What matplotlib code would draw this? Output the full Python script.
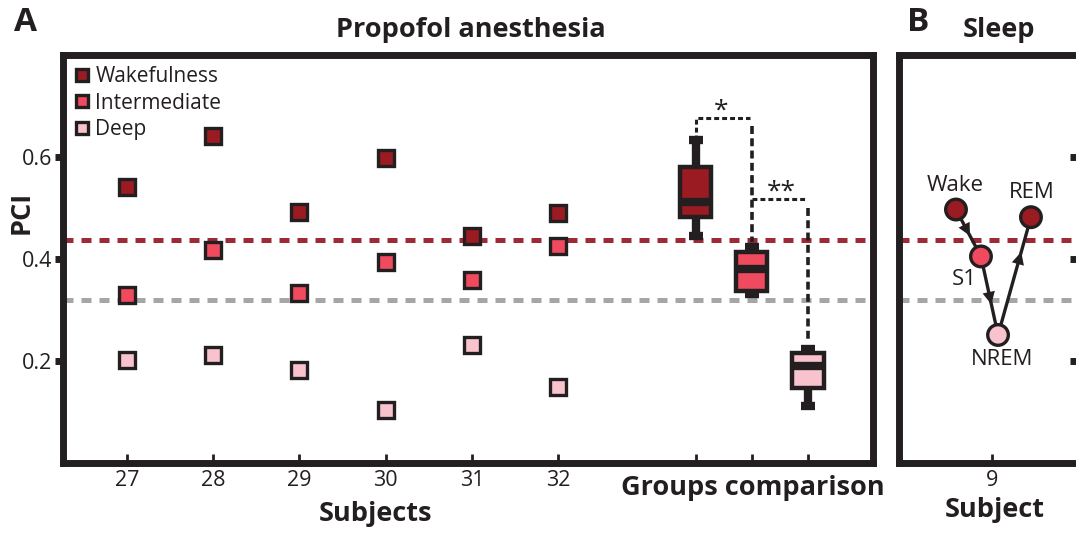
import numpy as np
import matplotlib.pyplot as plt

plt.rcParams['font.family'] = ['Open Sans', 'DejaVu Sans']

# data
subjects = ['27', '28', '29', '30', '31', '32']
wake = [0.541, 0.641, 0.492, 0.598, 0.445, 0.490]
inter = [0.329, 0.418, 0.333, 0.394, 0.359, 0.425]
deep = [0.202, 0.212, 0.182, 0.104, 0.231, 0.149]

# groups comparison boxes: whislo, q1, med, q3, whishi
box_wake = [0.446, 0.483, 0.512, 0.580, 0.633]
box_inter = [0.331, 0.338, 0.380, 0.414, 0.424]
box_deep = [0.112, 0.1465, 0.190, 0.215, 0.2235]

wake_thr = 0.437
deep_thr = 0.320

sleep_states = ['Wake', 'S1', 'NREM', 'REM']
sleep_pci = [0.497, 0.405, 0.251, 0.482]

BLACK = '#231f20'
c_wake = '#9b1b22'
c_inter = '#ef4a5d'
c_deep = '#f9c3cd'

fig = plt.figure(figsize=(10.76, 5.33), dpi=100)
W, H = 1076, 533
axA = fig.add_axes([63 / W, 70 / H, 810 / W, 408 / H])
axB = fig.add_axes([899 / W, 70 / H, 186 / W, 408 / H])

for ax in (axA, axB):
    ax.set_ylim(0, 0.8)
    for s in ax.spines.values():
        s.set_linewidth(5)
        s.set_color(BLACK)
axB.spines['right'].set_visible(False)

# ---- panel A ----
xs = np.arange(1, 7)
gpos = [7.6, 8.25, 8.9]
axA.set_xlim(0.2575, 9.654)

axA.axhline(wake_thr, color='#9e2a36', lw=3.6, ls=(0, (2, 1.6)), zorder=1)
axA.axhline(deep_thr, color='#a6a6a6', lw=3.6, ls=(0, (2, 1.6)), zorder=1)

for vals, c, lab in [(wake, c_wake, 'Wakefulness'), (inter, c_inter, 'Intermediate'), (deep, c_deep, 'Deep')]:
    axA.plot(xs, vals, 's', ms=11.5, mfc=c, mec=BLACK, mew=2.4, label=lab, zorder=3)

leg = axA.legend(loc='upper left', frameon=False, handlelength=0.7, handletextpad=0.3,
                 labelspacing=0.25, borderaxespad=0.35, fontsize=15, markerscale=0.75,
                 borderpad=0.2)
for t in leg.get_texts():
    t.set_color(BLACK)

stats = []
for b in (box_wake, box_inter, box_deep):
    stats.append(dict(whislo=b[0], q1=b[1], med=b[2], q3=b[3], whishi=b[4], fliers=[]))
bp = axA.bxp(stats, positions=gpos, widths=0.36, patch_artist=True, showfliers=False,
             manage_ticks=False, capwidths=0.17,
             boxprops=dict(edgecolor=BLACK, linewidth=3.2),
             medianprops=dict(color=BLACK, linewidth=6, solid_capstyle='butt'),
             whiskerprops=dict(color=BLACK, linewidth=6, solid_capstyle='butt'),
             capprops=dict(color=BLACK, linewidth=6, solid_capstyle='butt'))
for patch, c in zip(bp['boxes'], [c_wake, c_inter, c_deep]):
    patch.set_facecolor(c)
    patch.set_zorder(4)
for l in bp['medians']:
    l.set_zorder(5)

# significance brackets
dot = (0, (1.6, 1.0))
dash = (0, (2.2, 1.2))
axA.plot([gpos[0], gpos[0], gpos[1] - 0.02], [box_wake[4], 0.676, 0.676], ls=dot, lw=2.2, color=BLACK)
axA.plot([gpos[1], gpos[1]], [0.66, box_inter[4] + 0.01], ls=dash, lw=2.6, color=BLACK)
axA.plot([gpos[1], gpos[2] - 0.02], [0.518, 0.518], ls=dot, lw=2.2, color=BLACK)
axA.plot([gpos[2], gpos[2]], [0.50, box_deep[4] + 0.015], ls=dash, lw=2.6, color=BLACK)
axA.text(7.89, 0.69, '*', ha='center', va='center', fontsize=19, color=BLACK)
axA.text(8.59, 0.532, '**', ha='center', va='center', fontsize=19, color=BLACK)

axA.set_yticks([0.2, 0.4, 0.6])
axA.set_yticklabels(['0.2', '0.4', '0.6'])
axA.tick_params(axis='y', direction='out', length=6, width=5, color=BLACK,
                labelsize=15.5, labelcolor=BLACK, pad=2)
axA.set_xticks(list(xs) + gpos)
axA.set_xticklabels(subjects + ['', '', ''])
axA.tick_params(axis='x', direction='in', length=6.5, width=2, color=BLACK,
                labelsize=15.5, labelcolor=BLACK, pad=5)

# ---- panel B ----
sleep_x = [8.582, 8.872, 9.07, 9.452]
axB.set_xlim(7.921, 10.079)
axB.axhline(wake_thr, color='#9e2a36', lw=3.6, ls=(0, (2, 1.6)), zorder=1)
axB.axhline(deep_thr, color='#a6a6a6', lw=3.6, ls=(0, (2, 1.6)), zorder=1)
axB.plot(sleep_x, sleep_pci, color=BLACK, lw=2.4, zorder=2)
axB.scatter(sleep_x, sleep_pci, s=220, c=[c_wake, c_inter, c_deep, c_wake],
            edgecolors=BLACK, linewidths=2.4, zorder=4)

for i, f in [(0, 0.5), (1, 0.55), (2, 0.645)]:
    p0 = np.array([sleep_x[i], sleep_pci[i]])
    p1 = np.array([sleep_x[i + 1], sleep_pci[i + 1]])
    d = (p1 - p0)
    p = p0 + f * d
    axB.annotate('', xy=p + 0.06 * d, xytext=p - 0.06 * d,
                 arrowprops=dict(arrowstyle='-|>,head_length=0.9,head_width=0.45',
                                 color=BLACK, lw=0, shrinkA=0, shrinkB=0), zorder=3)

lab_pos = [(8.571, 0.545), (8.675, 0.360), (9.113, 0.202), (9.46, 0.530)]
for name, (tx, ty) in zip(sleep_states, lab_pos):
    axB.text(tx, ty, name, ha='center', va='center', fontsize=16, color=BLACK)

axB.set_xticks([9])
axB.set_xticklabels(['9'])
axB.tick_params(axis='x', direction='in', length=6.5, width=2, color=BLACK,
                labelsize=15.5, labelcolor=BLACK, pad=5)
axB.yaxis.tick_right()
axB.set_yticks([0.2, 0.4, 0.6])
axB.set_yticklabels([])
axB.tick_params(axis='y', direction='in', length=11, width=5, color=BLACK)

# ---- figure texts ----
def ftext(px, py, s, **kw):
    fig.text(px / W, 1 - py / H, s, ha='center', va='center', color=BLACK, **kw)

ftext(25, 22, 'A', fontsize=24, weight='bold')
ftext(918, 22, 'B', fontsize=24, weight='bold')
ftext(471, 30, 'Propofol anesthesia', fontsize=19.5, weight='bold')
ftext(999, 30, 'Sleep', fontsize=19.5, weight='bold')
ftext(375, 514, 'Subjects', fontsize=19.5, weight='bold')
ftext(753, 488, 'Groups comparison', fontsize=19.5, weight='bold')
ftext(995, 510, 'Subject', fontsize=19.5, weight='bold')
ftext(22, 212, 'PCI', fontsize=19.5, weight='bold', rotation=90)

fig.savefig('out.png', dpi=100)
